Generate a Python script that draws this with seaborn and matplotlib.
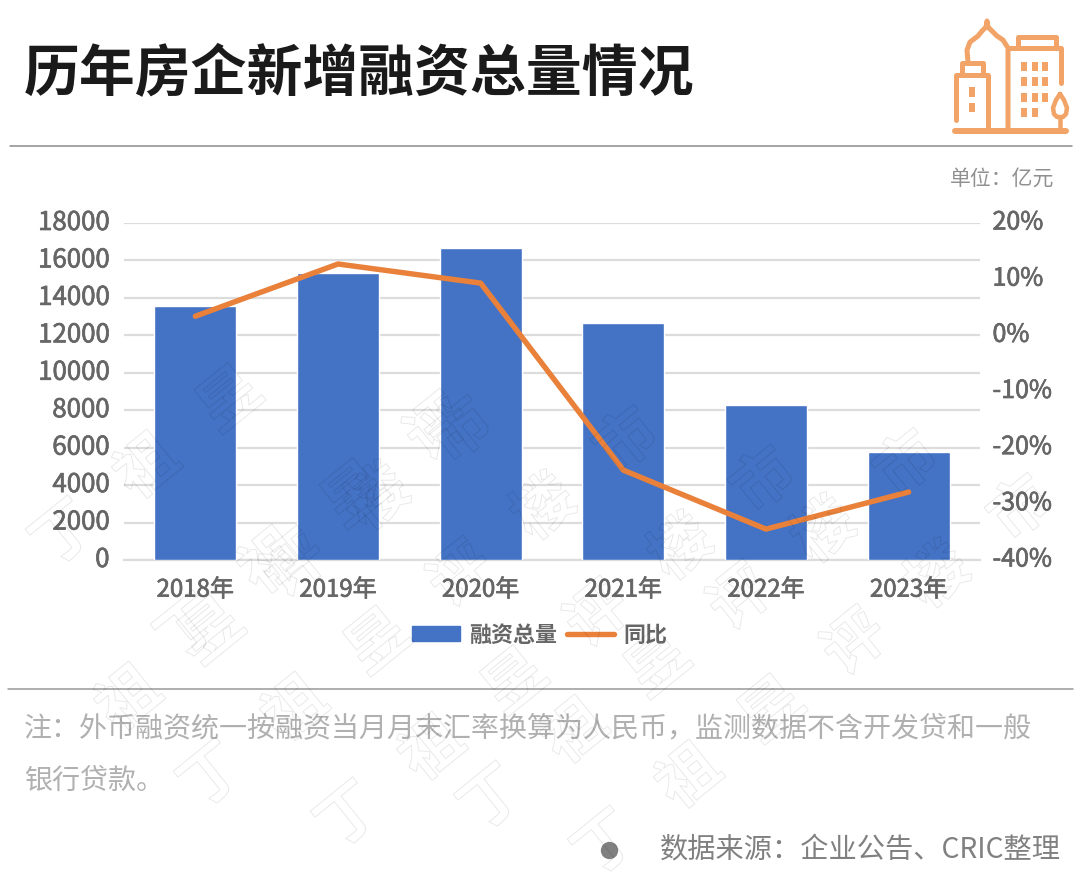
import numpy as np
import pandas as pd
import seaborn as sns
import matplotlib
matplotlib.use("Agg")
import matplotlib.pyplot as plt
import matplotlib.patheffects as pe
from matplotlib.lines import Line2D
from matplotlib.patches import Patch
from matplotlib.transforms import ScaledTranslation

years = ["2018年", "2019年", "2020年", "2021年", "2022年", "2023年"]
totals = [13590, 15340, 16670, 12670, 8290, 5780]
yoy = [3.4, 12.7, 9.3, -24.0, -34.5, -27.9]
left_ticks = [0, 2000, 4000, 6000, 8000, 10000, 12000, 14000, 16000, 18000]
right_ticks = [-40, -30, -20, -10, 0, 10, 20]

title = "历年房企新增融资总量情况"
unit = "单位\uff1a亿元"
note1 = "注\uff1a外币融资统一按融资当月月末汇率换算为人民币\uff0c监测数据不含开发贷和一般"
note2 = "银行贷款。"
source = "数据来源\uff1a企业公告、CRIC整理"
watermark = "丁祖昱评楼市"

sns.set_theme(style="white")
plt.rcParams["font.family"] = ["Noto Sans CJK SC", "DejaVu Sans"]
W, H = 1080, 896
fig = plt.figure(figsize=(W / 100, H / 100), dpi=100, facecolor="white")

def fx(x): return x / W
def fy(y): return 1 - y / H

ax = fig.add_axes([fx(124), fy(560), fx(980) - fx(124), (560 - 223) / H])
df = pd.DataFrame({"year": years, "total": totals, "yoy": yoy})
GRID = "#dcdcdc"; TXT = "#666666"; BLUE = "#4472c4"; ORANGE = "#e9813a"
medium = [pe.withStroke(linewidth=0.5, foreground=TXT)]

sns.barplot(data=df, x="year", y="total", color=BLUE, saturation=1, width=0.575, ax=ax, zorder=3)
ax.set_xlim(-0.5, 5.5); ax.set_ylim(0, 18000)
ax.set_yticks(left_ticks); ax.set_xlabel(""); ax.set_ylabel("")
ax.grid(axis="y", color=GRID, lw=1.6, zorder=0); ax.set_axisbelow(True)
for s in ax.spines.values(): s.set_visible(False)
ax.spines["bottom"].set_visible(True); ax.spines["bottom"].set_color(GRID); ax.spines["bottom"].set_linewidth(1.6)
ax.tick_params(axis="y", length=0, pad=10.5, labelsize=18.6, labelcolor=TXT)
ax.tick_params(axis="x", length=0, pad=12, labelsize=17.3, labelcolor=TXT)

ax2 = ax.twinx()
sns.lineplot(data=df, x="year", y="yoy", color=ORANGE, lw=3.9, ax=ax2, zorder=5, sort=False)
ax2.set_ylim(-40, 20); ax2.set_yticks(right_ticks); ax2.set_yticklabels([f"{v}%" for v in right_ticks])
ax2.set_xlabel(""); ax2.set_ylabel(""); ax2.grid(False)
for s in ax2.spines.values(): s.set_visible(False)
ax2.tick_params(axis="y", length=0, pad=9, labelsize=18, labelcolor=TXT)

up = ScaledTranslation(0, 3.5 / 100, fig.dpi_scale_trans)
for lab in ax.get_yticklabels() + ax2.get_yticklabels():
    lab.set_transform(lab.get_transform() + up)
    lab.set_path_effects(medium)
for lab in ax.get_xticklabels():
    lab.set_path_effects(medium)

handles = [Patch(color=BLUE), Line2D([0], [0], color=ORANGE, lw=3.9, solid_capstyle="round")]
fig.legend(handles, ["融资总量", "同比"], loc="center", bbox_to_anchor=(fx(540), fy(635)), ncol=2, frameon=False,
           prop={"size": 15.8, "weight": "bold"}, labelcolor=TXT, handlelength=2.15, handletextpad=0.45,
           columnspacing=0.42, handleheight=0.65)

fig.text(fx(24), fy(75), title, fontsize=40.2, fontweight="bold", color="#1a1a1a", va="center", ha="left")
fig.text(fx(1054), fy(179), unit, fontsize=15, color="#909090", va="center", ha="right")
fig.text(fx(24), fy(728), note1, fontsize=20.15, color="#b0b0b0", va="center", ha="left")
fig.text(fx(24), fy(781), note2, fontsize=20.15, color="#b0b0b0", va="center", ha="left")
fig.text(fx(1061), fy(849), source, fontsize=20.3, color="#808080", va="center", ha="right")
fig.add_artist(Line2D([fx(609)], [fy(850)], marker="o", ms=12.5, color="#808080", mew=0))
fig.add_artist(Line2D([fx(10), fx(1072)], [fy(146), fy(146)], color="#8c8c8c", lw=1.1))
fig.add_artist(Line2D([fx(8), fx(1073)], [fy(689), fy(689)], color="#999999", lw=1.1))


class Outline(pe.AbstractPathEffect):
    """Draw glyph outlines only, leaving the inside of the glyph see-through."""
    def draw_path(self, renderer, gc, tpath, affine, rgbFace=None):
        gc0 = renderer.new_gc()
        gc0.copy_properties(gc)
        gc0.set_linewidth(0.7)
        gc0.set_foreground((0, 0, 0, 0.09))
        renderer.draw_path(gc0, tpath, affine, None)
        gc0.restore()


# faint diagonal watermark: one glyph at a time, running up to the right
wm_starts = [(65, 535), (190, 630), (47, 767), (213, 777), (350, 817), (493, 800), (607, 845)]
wm_step = (83, -67)
for x0, y0 in wm_starts:
    for i, ch in enumerate(watermark):
        x, y = x0 + i * wm_step[0], y0 + i * wm_step[1]
        if y < 400 or x < 50 or x > 1030:
            continue
        t = fig.text(fx(x), fy(y), ch, fontsize=44, fontweight="bold", color="white", rotation=39,
                     ha="center", va="center", zorder=10, rotation_mode="anchor")
        t.set_path_effects([Outline()])

# building icon
IC = "#f2a468"
def icon(xs, ys, px=5, cap="round"):
    fig.add_artist(Line2D([fx(v) for v in xs], [fy(v) for v in ys], color=IC, lw=px * 0.72,
                          solid_capstyle=cap, solid_joinstyle="round"))
icon([955, 1066], [131, 131], 6)
icon([956, 956, 988, 988], [120, 75, 75, 131])
icon([962, 962, 983, 983, 962], [75, 63, 63, 75, 75])
icon([968, 967, 970, 978, 982, 986, 987, 988, 992, 997, 1003, 1008, 1008],
     [62, 50, 42, 36, 31, 27, 21, 27, 31, 36, 40, 48, 131])
icon([1008, 1061, 1061], [48, 48, 83])
icon([1018, 1018, 1056, 1056], [47, 37, 37, 47])
for cx in (1024, 1035, 1045):
    for cy in (62, 77, 93, 108):
        if cx == 1045 and cy == 108:
            continue
        icon([cx, cx], [cy, cy + 9], 6, "butt")
icon([972, 972], [87, 97], 6, "butt"); icon([972, 972], [103, 112], 6, "butt")
icon([1060, 1056, 1053, 1054, 1057, 1063, 1066, 1067, 1064, 1060], [94, 100, 108, 114, 117, 117, 114, 108, 100, 94], 4.5)
icon([1060, 1060], [117, 131], 4.5)

fig.savefig("out.png", dpi=100, facecolor="white")
